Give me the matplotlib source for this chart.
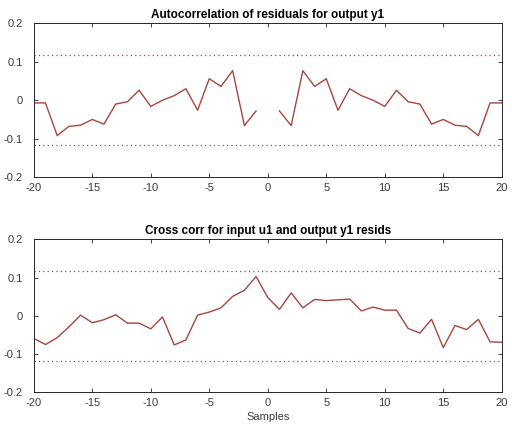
import numpy as np
import matplotlib
matplotlib.use('Agg')
import matplotlib.pyplot as plt

lags = np.arange(-20, 21)

# autocorrelation of residuals (lag 0 left out)
auto_corr = [-0.007, -0.007, -0.092, -0.068, -0.065, -0.050, -0.062, -0.010, -0.004, 0.026,
             -0.016, 0.000, 0.012, 0.030, -0.026, 0.056, 0.036, 0.077, -0.066, -0.028,
             np.nan,
             -0.028, -0.066, 0.077, 0.036, 0.056, -0.026, 0.030, 0.012, 0.000, -0.016,
             0.026, -0.004, -0.010, -0.062, -0.050, -0.065, -0.068, -0.092, -0.007, -0.007]

# cross correlation input u1 / output y1 residuals
cross_corr = [-0.059, -0.075, -0.057, -0.029, 0.002, -0.018, -0.010, 0.003, -0.019, -0.019,
              -0.034, -0.003, -0.076, -0.063, 0.002, 0.010, 0.021, 0.051, 0.067, 0.103,
              0.048, 0.017, 0.060, 0.021, 0.043, 0.040, 0.042, 0.044, 0.013, 0.023,
              0.015, 0.015, -0.033, -0.045, -0.009, -0.083, -0.025, -0.036, -0.009, -0.068,
              -0.069]

conf_auto = 0.117
conf_cross = 0.118

titles = ['Autocorrelation of residuals for output y1',
          'Cross corr for input u1 and output y1 resids']

line_col = '#a8463c'

plt.rcParams['font.family'] = ['Liberation Sans', 'DejaVu Sans']
plt.rcParams['font.size'] = 8

fig = plt.figure(figsize=(5.12, 4.33), dpi=100)
ax1 = fig.add_axes([0.066, 0.591, 0.914, 0.355])
ax2 = fig.add_axes([0.066, 0.094, 0.914, 0.353])

for ax, vals, conf, title in [(ax1, auto_corr, conf_auto, titles[0]),
                              (ax2, cross_corr, conf_cross, titles[1])]:
    ax.plot(lags, vals, color=line_col, lw=1.0)
    ax.plot([-20, 20], [conf, conf], color=line_col, lw=0.9, linestyle=(0, (1, 2.5)))
    ax.plot([-20, 20], [-conf, -conf], color=line_col, lw=0.9, linestyle=(0, (1, 2.5)))
    ax.set_xlim(-20, 20)
    ax.set_ylim(-0.2, 0.2)
    ax.set_xticks([-20, -15, -10, -5, 0, 5, 10, 15, 20])
    ax.set_yticks([-0.2, -0.1, 0, 0.1, 0.2])
    ax.set_yticklabels(['-0.2', '-0.1', '0', '0.1', '0.2'])
    ax.set_xticklabels(['-20', '-15', '-10', '-5', '0', '5', '10', '15', '20'])
    ax.tick_params(direction='in', top=True, right=True, length=3, width=0.6,
                   colors='#262626', labelcolor='#3a3a3a')
    ax.tick_params(axis='y', pad=8)
    ax.tick_params(axis='x', pad=4)
    for s in ax.spines.values():
        s.set_linewidth(0.7)
        s.set_color('#262626')
    ax.set_title(title, fontweight='bold', fontsize=8.5, pad=4)

ax2.set_xlabel('Samples', fontsize=8, color='#3a3a3a', labelpad=3)

plt.savefig('out.png', dpi=100)
